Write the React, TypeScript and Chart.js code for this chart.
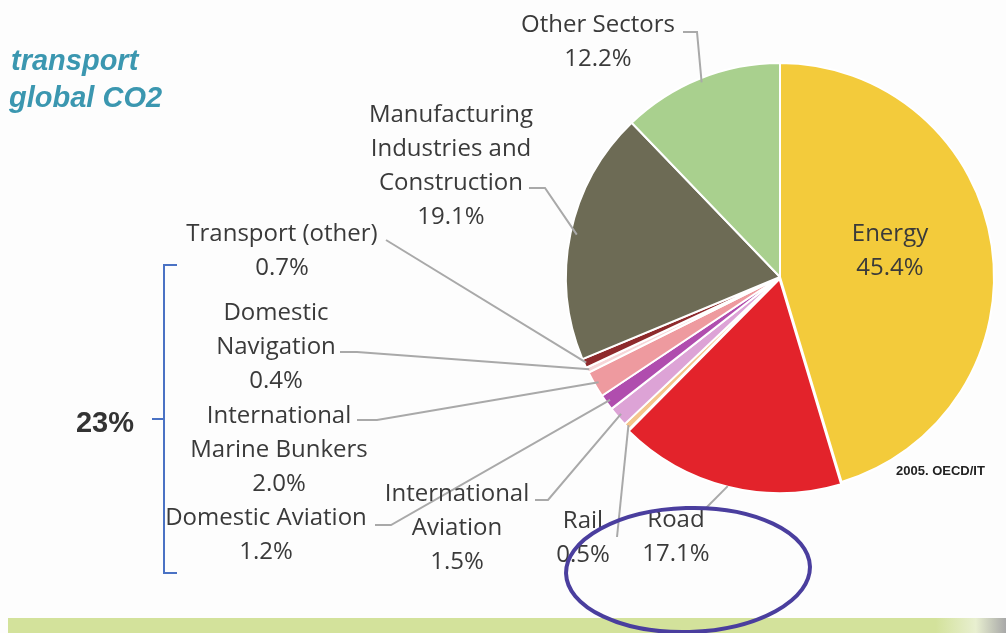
import React, { useEffect, useRef } from 'react';
import { Chart, registerables } from 'chart.js';
Chart.register(...registerables);

const categories = [
  'Energy',
  'Road',
  'Rail',
  'International Aviation',
  'Domestic Aviation',
  'International Marine Bunkers',
  'Domestic Navigation',
  'Transport (other)',
  'Manufacturing Industries and Construction',
  'Other Sectors',
];
const values = [45.4, 17.1, 0.5, 1.5, 1.2, 2.0, 0.4, 0.7, 19.1, 12.2];
const colors = ['#F3CB3B', '#E3232B', '#F4C58C', '#DDA3D6', '#B04DAE', '#EE9A9F', '#F7D6D8', '#8E2A2C', '#6D6B55', '#A9D08E'];
const offsets = [0, 8, 0, 0, 0, 0, 0, 0, 0, 0];
const labelLines: string[][] = [
  ['Energy'],
  ['Road'],
  ['Rail'],
  ['International', 'Aviation'],
  ['Domestic Aviation'],
  ['International', 'Marine Bunkers'],
  ['Domestic', 'Navigation'],
  ['Transport (other)'],
  ['Manufacturing', 'Industries and', 'Construction'],
  ['Other Sectors'],
];
const titleLines = ['transport', 'global CO2'];
const groupTotal = '23%';
const sourceText = '2005. OECD/IT';

// layout: label center x, first line y, leader start & elbow
const labelPos: [number, number][] = [
  [890, 234], [676, 520], [583, 521], [457, 494], [266, 518],
  [279, 416], [276, 313], [282, 234], [451, 115], [598, 25],
];
const leaderStart: ([number, number][] | null)[] = [
  null,
  [[706, 508]],
  [[617, 537], [617, 537]],
  [[535, 500], [548, 500]],
  [[375, 525], [391, 525]],
  [[357, 420], [377, 420]],
  [[340, 352], [357, 352]],
  [[386, 240]],
  [[529, 188], [545, 188]],
  [[683, 32], [697, 32]],
];
const leaderDepth = [0, 0.97, 0.99, 0.98, 0.98, 0.98, 0.99, 0.99, 0.97, 0.98];

const overlay = {
  id: 'overlay',
  beforeDraw(chart: any) {
    const ctx = chart.ctx;
    ctx.save();
    ctx.fillStyle = '#FDFDFD';
    ctx.fillRect(0, 0, chart.width, chart.height);
    // green bar
    const g = ctx.createLinearGradient(0, 0, 1006, 0);
    g.addColorStop(0, '#D3E29B');
    g.addColorStop(0.93, '#D3E29B');
    g.addColorStop(0.97, '#E8EFD0');
    g.addColorStop(1, '#A8A8A8');
    ctx.fillStyle = g;
    ctx.fillRect(8, 618, 998, 15);
    ctx.restore();
  },
  afterDraw(chart: any) {
    const ctx = chart.ctx;
    const arcs = chart.getDatasetMeta(0).data;
    ctx.save();
    // leader lines
    ctx.strokeStyle = '#A9A9A9';
    ctx.lineWidth = 2;
    arcs.forEach((arc: any, i: number) => {
      const pts = leaderStart[i];
      if (!pts) return;
      const p = arc.getProps(['x', 'y', 'startAngle', 'endAngle', 'outerRadius'], true);
      const mid = (p.startAngle + p.endAngle) / 2;
      const r = p.outerRadius * leaderDepth[i] + offsets[i];
      const ex = p.x + Math.cos(mid) * r;
      const ey = p.y + Math.sin(mid) * r;
      ctx.beginPath();
      ctx.moveTo(pts[0][0], pts[0][1]);
      for (let k = 1; k < pts.length; k++) ctx.lineTo(pts[k][0], pts[k][1]);
      ctx.lineTo(ex, ey);
      ctx.stroke();
    });
    // labels
    ctx.fillStyle = '#3A3A3A';
    ctx.textAlign = 'center';
    ctx.textBaseline = 'middle';
    ctx.font = '24px "Open Sans"';
    labelLines.forEach((lines, i) => {
      const [x, y] = labelPos[i];
      const all = [...lines, values[i].toFixed(1) + '%'];
      all.forEach((t, k) => ctx.fillText(t, x, y + k * 34));
    });
    // title
    ctx.fillStyle = '#3B97B0';
    ctx.textAlign = 'left';
    ctx.font = 'italic bold 29px "Liberation Sans"';
    ctx.fillText(titleLines[0], 11, 62);
    ctx.fillText(titleLines[1], 9, 99);
    // source
    ctx.fillStyle = '#222';
    ctx.font = 'bold 13px "Liberation Sans"';
    ctx.fillText(sourceText, 896, 471);
    // 23%
    ctx.font = 'bold 29px "Liberation Sans"';
    ctx.fillStyle = '#333';
    ctx.textAlign = 'center';
    ctx.fillText(groupTotal, 105, 424);
    // bracket
    ctx.strokeStyle = '#4A72C4';
    ctx.lineWidth = 2;
    ctx.beginPath();
    ctx.moveTo(177, 265);
    ctx.lineTo(164, 265);
    ctx.lineTo(164, 573);
    ctx.lineTo(177, 573);
    ctx.moveTo(164, 419);
    ctx.lineTo(152, 419);
    ctx.stroke();
    // ellipse
    ctx.strokeStyle = '#4A3E9E';
    ctx.lineWidth = 4;
    ctx.beginPath();
    ctx.ellipse(688, 570, 122, 62, -0.03, 0, Math.PI * 2);
    ctx.stroke();
    ctx.restore();
  },
};

export default function App() {
  const ref = useRef<HTMLCanvasElement>(null);
  useEffect(() => {
    if (!ref.current) return;
    const chart = new Chart(ref.current, {
      type: 'pie',
      data: {
        labels: categories,
        datasets: [
          {
            data: values,
            backgroundColor: colors,
            borderColor: '#FFFFFF',
            borderWidth: 2,
            offset: offsets,
          },
        ],
      },
      options: {
        animation: false,
        responsive: true,
        maintainAspectRatio: false,
        radius: 214,
        layout: { padding: { left: 564, right: 10, top: 60, bottom: 139 } },
        plugins: { legend: { display: false }, tooltip: { enabled: false } },
      } as any,
      plugins: [overlay],
    });
    return () => chart.destroy();
  }, []);
  return (
    <div style={{ position: 'fixed', left: 0, top: 0, width: 1006, height: 633, background: '#FDFDFD' }}>
      <canvas ref={ref} />
    </div>
  );
}
